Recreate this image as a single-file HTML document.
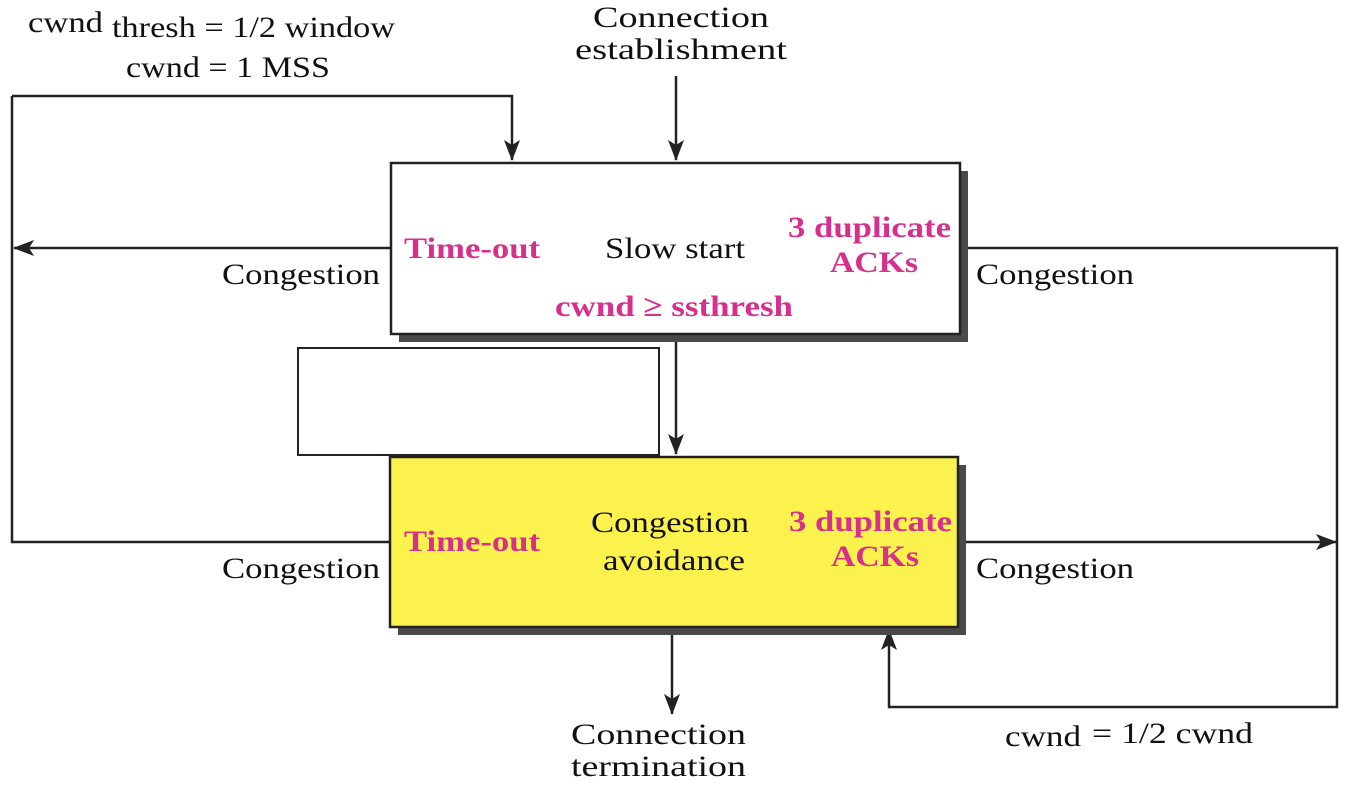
<!DOCTYPE html>
<html><head><style>body{margin:0;background:#fff}svg{display:block}</style></head><body>
<svg width="1354" height="792" viewBox="0 0 1354 792" xmlns="http://www.w3.org/2000/svg" font-family="Liberation Serif, serif">
<defs><marker id="a" markerWidth="24" markerHeight="16" refX="20" refY="8" orient="auto" markerUnits="userSpaceOnUse"><path d="M0,0 L21,8 L0,16 L5,8 Z" fill="#222"/></marker></defs>
<g fill="none" stroke="#222" stroke-width="2.5">
<path d="M12,96 H512 V160" marker-end="url(#a)"/>
<path d="M676,76 V160" marker-end="url(#a)"/>
<path d="M391,248 H14" marker-end="url(#a)"/>
<path d="M12,96 V542 H391"/>
<path d="M960,248 H1337 V707 H889 V630" marker-end="url(#a)"/>
<path d="M958,542 H1336" marker-end="url(#a)"/>
<path d="M676,334 V454" marker-end="url(#a)"/>
<path d="M672,627 V714" marker-end="url(#a)"/>
</g>
<rect x="399" y="171" width="569" height="171" fill="#4a4a4a"/>
<rect x="391" y="163" width="569" height="171" fill="#fff" stroke="#222" stroke-width="2.5"/>
<rect x="398" y="465" width="568" height="170" fill="#4a4a4a"/>
<rect x="390" y="457" width="568" height="170" fill="#fcf24e" stroke="#222" stroke-width="2.5"/>
<rect x="298" y="348" width="361" height="107" fill="#fff" stroke="#222" stroke-width="2"/>
<g font-size="30" fill="#111" lengthAdjust="spacingAndGlyphs">
<text x="28" y="32" textLength="75" lengthAdjust="spacingAndGlyphs">cwnd</text>
<text x="112" y="37" textLength="283" lengthAdjust="spacingAndGlyphs">thresh = 1/2 window</text>
<text x="126" y="77" textLength="204" lengthAdjust="spacingAndGlyphs">cwnd = 1 MSS</text>
<text x="593" y="27" textLength="176" lengthAdjust="spacingAndGlyphs">Connection</text>
<text x="575" y="59" textLength="212" lengthAdjust="spacingAndGlyphs">establishment</text>
<text x="222" y="284" textLength="158" lengthAdjust="spacingAndGlyphs">Congestion</text>
<text x="976" y="284" textLength="158" lengthAdjust="spacingAndGlyphs">Congestion</text>
<text x="222" y="578" textLength="158" lengthAdjust="spacingAndGlyphs">Congestion</text>
<text x="976" y="578" textLength="158" lengthAdjust="spacingAndGlyphs">Congestion</text>
<text x="605" y="258" textLength="140" lengthAdjust="spacingAndGlyphs">Slow start</text>
<text x="591" y="532" textLength="158" lengthAdjust="spacingAndGlyphs">Congestion</text>
<text x="603" y="570" textLength="142" lengthAdjust="spacingAndGlyphs">avoidance</text>
<text x="571" y="744" textLength="175" lengthAdjust="spacingAndGlyphs">Connection</text>
<text x="571" y="776" textLength="175" lengthAdjust="spacingAndGlyphs">termination</text>
<text x="1005" y="746" textLength="76" lengthAdjust="spacingAndGlyphs">cwnd</text>
<text x="1092" y="743" textLength="161" lengthAdjust="spacingAndGlyphs">= 1/2  cwnd</text>
</g>
<g font-size="30" font-weight="bold" fill="#d6308c">
<text x="404" y="258" textLength="136" lengthAdjust="spacingAndGlyphs">Time-out</text>
<text x="404" y="551" textLength="136" lengthAdjust="spacingAndGlyphs">Time-out</text>
<text x="788" y="237" textLength="163" lengthAdjust="spacingAndGlyphs">3 duplicate</text>
<text x="830" y="272" textLength="88" lengthAdjust="spacingAndGlyphs">ACKs</text>
<text x="789" y="531" textLength="163" lengthAdjust="spacingAndGlyphs">3 duplicate</text>
<text x="831" y="566" textLength="88" lengthAdjust="spacingAndGlyphs">ACKs</text>
<text x="555" y="316" textLength="238" lengthAdjust="spacingAndGlyphs">cwnd ≥ ssthresh</text>
</g>
</svg>
</body></html>
